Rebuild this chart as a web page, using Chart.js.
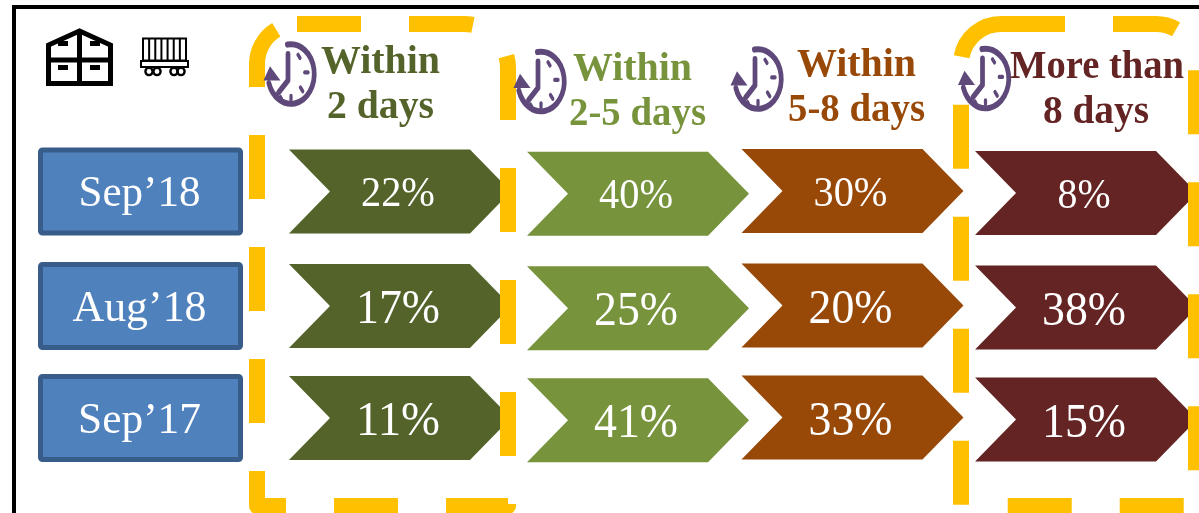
<!DOCTYPE html>
<html>
<head>
<meta charset="utf-8">
<title>Delivery time split</title>
<script src="https://cdn.jsdelivr.net/npm/chart.js@4"></script>
<style>
  html, body { margin: 0; padding: 0; background: #fff; overflow: hidden; }
  canvas { display: block; }
</style>
</head>
<body>
<canvas id="grafico" width="1199" height="513"></canvas>
<script>
// Data
const months = ['Sep’18', 'Aug’18', 'Sep’17'];
const headerTop = ['Within', 'Within', 'Within', 'More than'];
const headerBottom = ['2 days', '2-5 days', '5-8 days', '8 days'];
const buckets = headerTop.map((t, i) => t + ' ' + headerBottom[i]);
const within2 = [22, 17, 11];
const within2to5 = [40, 25, 41];
const within5to8 = [30, 20, 33];
const moreThan8 = [8, 38, 15];
const series = [within2, within2to5, within5to8, moreThan8];
const colors = ['#536329', '#77933C', '#984807', '#632423'];

// Layout: small nudges from the evenly spaced category scale
const colNudgeX = [1.6, 10.9, -3.4, 1.4];
const colNudgeY = [0, 2.3, -0.5, 1.6];
const rowNudgeY = [0, 1.5, 0.5];
const ARROW_W = 222, ARROW_H = 84, NOTCH = 41;
const valueFont = [42, 48, 48];
const SERIF = '"Liberation Serif", serif';

// text squeezed to the width measured on the picture
function fitText(ctx, text, cx, y, font, width) {
  ctx.save();
  ctx.font = font;
  ctx.textAlign = 'center';
  ctx.textBaseline = 'alphabetic';
  const w = ctx.measureText(text).width;
  ctx.translate(cx, y);
  ctx.scale(width ? width / w : 1, 1);
  ctx.fillText(text, 0, 0);
  ctx.restore();
}

function drawChevron(ctx, cx, cy, color) {
  const l = cx - ARROW_W / 2, r = cx + ARROW_W / 2;
  const t = cy - ARROW_H / 2, b = cy + ARROW_H / 2;
  ctx.fillStyle = color;
  ctx.beginPath();
  ctx.moveTo(l, t);
  ctx.lineTo(r - NOTCH, t);
  ctx.lineTo(r, cy);
  ctx.lineTo(r - NOTCH, b);
  ctx.lineTo(l, b);
  ctx.lineTo(l + NOTCH, cy);
  ctx.closePath();
  ctx.fill();
}

// Dashed highlight, only the top corners are round
function drawDashedBox(ctx, x0, y0, x1, y1, rightR) {
  const r = 40;
  ctx.save();
  ctx.strokeStyle = '#FFC000';
  ctx.lineWidth = 16;
  ctx.lineJoin = 'round';
  ctx.setLineDash([64, 48]);
  ctx.beginPath();
  ctx.moveTo(x0 + r, y0);
  ctx.lineTo(x1 - rightR, y0);
  ctx.arc(x1 - rightR, y0 + rightR, rightR, -Math.PI / 2, 0);
  ctx.lineTo(x1, y1);
  ctx.lineTo(x0, y1);
  ctx.lineTo(x0, y0 + r);
  ctx.arc(x0 + r, y0 + r, r, Math.PI, Math.PI * 1.5);
  ctx.stroke();
  ctx.restore();
}

function drawClock(ctx, cx, cy) {
  const c = '#5F497A';
  ctx.save();
  ctx.translate(cx, cy);
  ctx.scale(25, 32);
  ctx.strokeStyle = c;
  ctx.fillStyle = c;
  ctx.lineCap = 'round';
  ctx.lineJoin = 'round';
  ctx.lineWidth = 0.19;
  ctx.beginPath();
  ctx.arc(0, 0, 0.93, -Math.PI * 0.55, Math.PI * 0.9);
  ctx.stroke();
  // arrow head
  ctx.beginPath();
  ctx.moveTo(-0.84, -0.24);
  ctx.lineTo(-0.42, 0.2);
  ctx.lineTo(-1.1, 0.2);
  ctx.closePath();
  ctx.fill();
  // hands
  ctx.beginPath();
  ctx.moveTo(-0.12, -0.62);
  ctx.lineTo(-0.12, 0.2);
  ctx.lineTo(-0.5, 0.58);
  ctx.stroke();
  // hour marks
  ctx.lineWidth = 0.13;
  [[0.28, -0.6, 0.36, -0.5], [0.55, -0.05, 0.68, -0.05], [0.38, 0.42, 0.47, 0.54], [0.0, 0.68, 0.0, 0.8], [-0.42, 0.72, -0.38, 0.78]].forEach(m => {
    ctx.beginPath();
    ctx.moveTo(m[0], m[1]);
    ctx.lineTo(m[2], m[3]);
    ctx.stroke();
  });
  ctx.restore();
}

function drawWarehouse(ctx) {
  ctx.save();
  ctx.strokeStyle = '#000';
  ctx.fillStyle = '#000';
  ctx.lineWidth = 5;
  ctx.lineJoin = 'miter';
  ctx.beginPath();
  ctx.moveTo(48.5, 83.5);
  ctx.lineTo(48.5, 45);
  ctx.lineTo(79.5, 31);
  ctx.lineTo(110.5, 45);
  ctx.lineTo(110.5, 83.5);
  ctx.closePath();
  ctx.moveTo(79.5, 30);
  ctx.lineTo(79.5, 84);
  ctx.moveTo(48, 60);
  ctx.lineTo(111, 60);
  ctx.stroke();
  ctx.fillRect(58, 65, 10, 5);
  ctx.fillRect(90, 65, 10, 5);
  ctx.fillRect(58, 41, 10, 5);
  ctx.fillRect(90, 41, 10, 5);
  ctx.restore();
}

function drawWagon(ctx) {
  ctx.save();
  ctx.strokeStyle = '#000';
  ctx.lineWidth = 2;
  ctx.strokeRect(143, 38.5, 43, 22);
  for (let i = 1; i < 7; i++) {
    ctx.beginPath();
    ctx.moveTo(143 + i * 43 / 7, 38.5);
    ctx.lineTo(143 + i * 43 / 7, 60);
    ctx.stroke();
  }
  ctx.strokeRect(141, 61, 47, 6);
  ctx.lineWidth = 2.4;
  [149, 157, 174, 181].forEach(x => {
    ctx.beginPath();
    ctx.arc(x, 71.5, 3.6, 0, Math.PI * 2);
    ctx.stroke();
  });
  ctx.restore();
}

const infografia = {
  id: 'infografia',
  beforeDatasetsDraw(chart) {
    const ctx = chart.ctx;
    // black frame, open at right and bottom
    ctx.fillStyle = '#000';
    ctx.fillRect(12, 5, 1187, 4);
    ctx.fillRect(12, 5, 4, 508);
    drawWarehouse(ctx);
    drawWagon(ctx);
    // month boxes sit on the y scale
    const monthW = [122, 134, 123];
    months.forEach((m, r) => {
      const cy = chart.scales.y.getPixelForValue(m) + rowNudgeY[r];
      ctx.beginPath();
      ctx.roundRect(40.5, cy - 41.5, 200, 83, 2);
      ctx.fillStyle = '#4F81BD';
      ctx.fill();
      ctx.lineWidth = 5;
      ctx.strokeStyle = '#385D8A';
      ctx.stroke();
      ctx.fillStyle = '#fff';
      fitText(ctx, m, 139.5, cy + 14.5, '45px ' + SERIF, monthW[r]);
    });
  },
  afterDatasetsDraw(chart) {
    const ctx = chart.ctx;
    const pos = [];
    chart.data.datasets.forEach((ds, c) => {
      chart.getDatasetMeta(c).data.forEach((pt, r) => {
        const cx = pt.x + colNudgeX[c];
        const cy = pt.y + colNudgeY[c] + rowNudgeY[r];
        drawChevron(ctx, cx, cy, colors[c]);
        pos.push({ cx, cy, r, v: ds.data[r].v });
      });
    });
    drawDashedBox(ctx, 257, 24, 508, 506, 44);
    drawDashedBox(ctx, 961, 24, 1196, 506, 40);
    // percentages
    ctx.fillStyle = '#fff';
    pos.forEach(p => {
      const txt = p.v + '%';
      const w = (txt.length === 2 ? 53 : (p.r === 0 ? 74 : 84));
      fitText(ctx, txt, p.cx - 2, p.cy + (p.r === 0 ? 14.5 : 17), valueFont[p.r] + 'px ' + SERIF, w);
    });
    // column headers
    const clockX = [291, 541, 758, 985.5];
    const clockY = [74, 81.5, 79, 78.5];
    const topX = [380.5, 632.5, 856.5, 1097];
    const botX = [380.5, 637.5, 856.5, 1096];
    const topY = [73, 80, 76, 78];
    const topW = [119, 119, 119, 174];
    const botW = [107, 137, 137, 106];
    buckets.forEach((b, c) => {
      drawClock(ctx, clockX[c], clockY[c]);
      ctx.fillStyle = colors[c];
      const font = 'bold 40px ' + SERIF;
      fitText(ctx, headerTop[c], topX[c], topY[c], font, topW[c]);
      fitText(ctx, headerBottom[c], botX[c], topY[c] + 45, font, botW[c]);
    });
  }
};

new Chart(document.getElementById('grafico').getContext('2d'), {
  type: 'scatter',
  data: {
    datasets: series.map((vals, c) => ({
      label: buckets[c],
      data: vals.map((v, r) => ({ x: buckets[c], y: months[r], v: v })),
      pointRadius: 0,
      pointHoverRadius: 0
    }))
  },
  options: {
    responsive: false,
    animation: false,
    layout: { padding: { left: 284, right: 0, top: 135, bottom: 39 } },
    plugins: { legend: { display: false }, tooltip: { enabled: false } },
    scales: {
      x: { type: 'category', labels: buckets, offset: true, display: false },
      y: { type: 'category', labels: months, offset: true, display: false }
    }
  },
  plugins: [infografia]
});
</script>
</body>
</html>
